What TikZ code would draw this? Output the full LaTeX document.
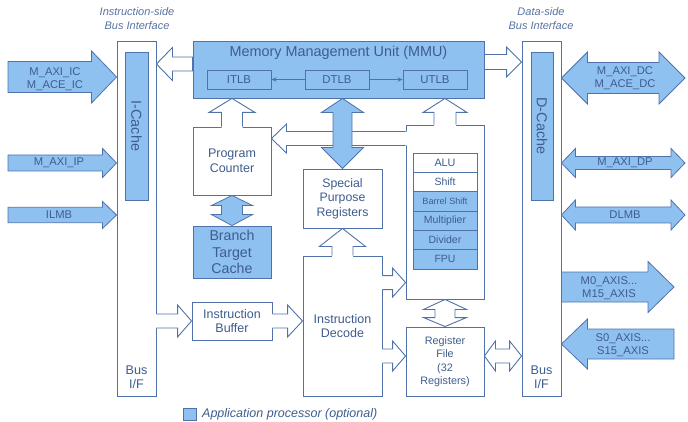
\documentclass[tikz,border=0pt]{standalone}
\usepackage{fontspec}
\setmainfont{Liberation Sans}
\usetikzlibrary{calc,arrows.meta}
\definecolor{fillb}{RGB}{143,193,240}
\definecolor{lineb}{RGB}{80,114,170}
\definecolor{txtb}{RGB}{62,92,142}
\definecolor{ttlb}{RGB}{88,114,160}
\newcommand{\myfs}[2]{\fontsize{#1}{#2}\selectfont}
\tikzset{
  box/.style={draw=lineb, line width=0.9pt, fill=white, inner sep=0pt, text=txtb, align=center},
  fbox/.style={box, fill=fillb},
  filledarrow/.style={draw=lineb, fill=fillb, line width=0.8pt, line join=miter},
  openarrow/.style={draw=lineb, fill=white, line width=0.9pt, line join=miter},
  openline/.style={draw=lineb, line width=0.9pt, line join=miter},
  lbl/.style={text=txtb, align=center, inner sep=0pt, font=\myfs{11.2}{13}},
  ttl/.style={text=ttlb, align=center, inner sep=0pt, font=\myfs{11}{14}\itshape},
  tlbarrow/.style={draw=lineb, line width=0.8pt, -{Stealth[length=5pt,width=4.5pt]}},
}
% single block arrow: style, tail, tip, shaft half width, head half width, head length
\newcommand{\blkarrow}[6]{%
  \path #2 coordinate (aA) #3 coordinate (aB);
  \path ($(aB)!#6!(aA)$) coordinate (aP);
  \filldraw[#1] ($(aA)!#4!90:(aB)$) -- ($(aP)!#4!90:(aB)$) -- ($(aP)!#5!90:(aB)$) -- (aB)
    -- ($(aP)!#5!-90:(aB)$) -- ($(aP)!#4!-90:(aB)$) -- ($(aA)!#4!-90:(aB)$) -- cycle;}
% open arrow whose tail merges into a box: tail, tip, sw, hw, hl
\newcommand{\opnarrow}[5]{%
  \path #1 coordinate (aA) #2 coordinate (aB);
  \path ($(aB)!#5!(aA)$) coordinate (aP) ($(aA)!-2pt!(aB)$) coordinate (aT);
  \fill[white] ($(aT)!#3!90:(aB)$) -- ($(aP)!#3!90:(aB)$) -- ($(aP)!#4!90:(aB)$) -- (aB)
    -- ($(aP)!#4!-90:(aB)$) -- ($(aP)!#3!-90:(aB)$) -- ($(aT)!#3!-90:(aB)$) -- cycle;
  \draw[openline] ($(aA)!#3!90:(aB)$) -- ($(aP)!#3!90:(aB)$) -- ($(aP)!#4!90:(aB)$) -- (aB)
    -- ($(aP)!#4!-90:(aB)$) -- ($(aP)!#3!-90:(aB)$) -- ($(aA)!#3!-90:(aB)$);}
% double block arrow: style, A, B, sw, hw, hlA, hlB
\newcommand{\dblarrow}[7]{%
  \path #2 coordinate (aA) #3 coordinate (aB);
  \path ($(aA)!#6!(aB)$) coordinate (aPA) ($(aB)!#7!(aA)$) coordinate (aPB);
  \filldraw[#1] (aA) -- ($(aPA)!#5!90:(aB)$) -- ($(aPA)!#4!90:(aB)$) -- ($(aPB)!#4!90:(aB)$)
    -- ($(aPB)!#5!90:(aB)$) -- (aB) -- ($(aPB)!#5!-90:(aB)$) -- ($(aPB)!#4!-90:(aB)$)
    -- ($(aPA)!#4!-90:(aB)$) -- ($(aPA)!#5!-90:(aB)$) -- cycle;}
\begin{document}
\begin{tikzpicture}[x=1pt,y=-1pt]
\useasboundingbox (0,0) rectangle (688,422);

% titles
\node[ttl] (ist) at (137,19) {Instruction-side\\Bus Interface};
\node[ttl] (dst) at (541,19) {Data-side\\Bus Interface};

% bus columns
\node[box, minimum width=39pt, minimum height=355pt] (isbus) at (136.5,218.5) {};
\node[fbox, minimum width=23pt, minimum height=148pt] (icache) at (136.5,126) {};
\node[text=txtb, rotate=-90, font=\myfs{14.4}{16}] (icachet) at (icache.center) {I-Cache};
\node[lbl, font=\myfs{12.6}{14}] (isbf) at (136.5,377) {Bus\\I/F};

\node[box, minimum width=39pt, minimum height=355pt] (dsbus) at (541.5,218.5) {};
\node[fbox, minimum width=22pt, minimum height=148pt] (dcache) at (542,126) {};
\node[text=txtb, rotate=-90, font=\myfs{14.4}{16}] (dcachet) at (dcache.center) {D-Cache};
\node[lbl, font=\myfs{12.6}{14}] (dsbf) at (541.5,377) {Bus\\I/F};

% MMU
\node[fbox, minimum width=291pt, minimum height=57pt] (mmu) at (338.5,69.5) {};
\node[text=txtb, font=\myfs{14.4}{16}, inner sep=0pt] (mmut) at (338.5,53) {Memory Management Unit (MMU)};
\node[fbox, minimum width=64pt, minimum height=19pt, font=\myfs{11.4}{13}] (itlb) at (239,79.5) {ITLB};
\node[fbox, minimum width=64pt, minimum height=19pt, font=\myfs{11.4}{13}] (dtlb) at (337,79.5) {DTLB};
\node[fbox, minimum width=64pt, minimum height=19pt, font=\myfs{11.4}{13}] (utlb) at (435,79.5) {UTLB};
\draw[tlbarrow] (dtlb) -- (itlb);
\draw[tlbarrow] (dtlb) -- (utlb);

% core blocks
\node[box, minimum width=78pt, minimum height=68pt, font=\myfs{12.5}{15}] (pc) at (232,161) {Program\\Counter};
\node[fbox, minimum width=78pt, minimum height=52pt, font=\myfs{14.2}{16.5}] (btc) at (232,252) {Branch\\Target\\Cache};
\node[box, minimum width=79pt, minimum height=59pt, font=\myfs{12.3}{14.5}] (spr) at (342.5,198.5) {Special\\Purpose\\Registers};
\node[box, minimum width=79pt, minimum height=140pt, font=\myfs{12.5}{14.5}] (dec) at (342.5,326) {Instruction\\Decode};
\node[box, minimum width=80pt, minimum height=38pt, font=\myfs{12.5}{14.5}] (ib) at (232,321) {Instruction\\Buffer};
\node[box, minimum width=78pt, minimum height=174pt] (exec) at (445,212) {};
\node[box, minimum width=78pt, minimum height=69pt, font=\myfs{10.8}{13.5}] (rf) at (445,361.5) {Register\\File\\(32\\Registers)};

% execution units
\node[box, minimum width=64pt, minimum height=19.33pt, font=\myfs{10.8}{12}] (alu) at (445,162.67) {ALU};
\node[box, minimum width=64pt, minimum height=19.33pt, font=\myfs{10.5}{12}] (shf) at (445,182) {Shift};
\node[fbox, minimum width=64pt, minimum height=19.33pt, font=\myfs{9.1}{11}] (bsh) at (445,201.33) {Barrel Shift};
\node[fbox, minimum width=64pt, minimum height=19.33pt, font=\myfs{10.5}{12}] (mul) at (445,220.67) {Multiplier};
\node[fbox, minimum width=64pt, minimum height=19.33pt, font=\myfs{10.5}{12}] (dvd) at (445,240) {Divider};
\node[fbox, minimum width=64pt, minimum height=19.33pt, font=\myfs{10.5}{12}] (fpu) at (445,259.33) {FPU};

% left interface arrows
\coordinate (micT) at (8,77);
\blkarrow{filledarrow}{(micT)}{(isbus.west |- micT)}{15.5pt}{26pt}{25pt}
\node[lbl] (micL) at (55,79) {M\_AXI\_IC\\M\_ACE\_IC};
\coordinate (mipT) at (8,163);
\blkarrow{filledarrow}{(mipT)}{(isbus.west |- mipT)}{8pt}{14.5pt}{14pt}
\node[lbl] (mipL) at (59,163) {M\_AXI\_IP};
\coordinate (ilmT) at (8,215);
\blkarrow{filledarrow}{(ilmT)}{(isbus.west |- ilmT)}{7.7pt}{13.5pt}{14pt}
\node[lbl] (ilmL) at (59,215) {ILMB};

% MMU to bus interfaces
\path ($(mmu.west)+(0,-5.5)$) coordinate (mmuI);
\blkarrow{openarrow}{(mmuI)}{(isbus.east |- mmuI)}{7pt}{16.5pt}{16pt}
\path ($(mmu.east)+(0,-7.5)$) coordinate (mmuD);
\blkarrow{openarrow}{(mmuD)}{(dsbus.west |- mmuD)}{7.5pt}{15pt}{15pt}

% right interface arrows
\coordinate (mdcR) at (685,78);
\dblarrow{filledarrow}{(dsbus.east |- mdcR)}{(mdcR)}{15.5pt}{26pt}{26pt}{26pt}
\node[lbl] (mdcL) at (625,78) {M\_AXI\_DC\\M\_ACE\_DC};
\coordinate (mdpR) at (685,163);
\dblarrow{filledarrow}{(dsbus.east |- mdpR)}{(mdpR)}{6.5pt}{14.5pt}{14pt}{14pt}
\node[lbl] (mdpL) at (625,163) {M\_AXI\_DP};
\coordinate (dlmR) at (685,215);
\dblarrow{filledarrow}{(dsbus.east |- dlmR)}{(dlmR)}{8pt}{15pt}{14pt}{14pt}
\node[lbl] (dlmL) at (625,215) {DLMB};
\coordinate (m0T) at (674,287);
\blkarrow{filledarrow}{(dsbus.east |- m0T)}{(m0T)}{15pt}{25.5pt}{26pt}
\node[lbl] (m0L) at (609,288) {M0\_AXIS...\\M15\_AXIS};
\coordinate (s0T) at (674,344);
\blkarrow{filledarrow}{(s0T)}{(dsbus.east |- s0T)}{15pt}{25pt}{26pt}
\node[lbl] (s0L) at (623,345) {S0\_AXIS...\\S15\_AXIS};

% internal arrows
\opnarrow{(pc.north)}{(pc.north |- mmu.south)}{10.5pt}{23pt}{14pt}
\opnarrow{(exec.north)}{(exec.north |- mmu.south)}{11pt}{22pt}{14pt}
\path ($(exec.north west)+(0,14)$) coordinate (exL);
\opnarrow{(exL)}{(pc.east |- exL)}{7pt}{14.5pt}{15pt}
\dblarrow{filledarrow}{(spr.north |- mmu.south)}{(spr.north)}{9.5pt}{21pt}{14pt}{21pt}
\opnarrow{(dec.north)}{(spr.south)}{10.5pt}{23pt}{18pt}
\dblarrow{filledarrow}{(pc.south)}{(btc.north)}{10.5pt}{20.5pt}{10pt}{11pt}
\path ($(dec.north east)+(0,27)$) coordinate (dx1);
\opnarrow{(dx1)}{(exec.west |- dx1)}{7pt}{14.5pt}{13pt}
\path ($(rf.west)+(0,-5.5)$) coordinate (dx2);
\opnarrow{(dec.east |- dx2)}{(dx2)}{7pt}{15pt}{13pt}
\dblarrow{openarrow}{(exec.south)}{(rf.north)}{10pt}{21.5pt}{10pt}{9pt}
\path ($(rf.east)+(0,-5.5)$) coordinate (rfx);
\dblarrow{openarrow}{(rfx)}{(dsbus.west |- rfx)}{7pt}{15pt}{11pt}{12pt}
\opnarrow{(isbus.east |- ib.west)}{(ib.west)}{7pt}{16pt}{14pt}
\opnarrow{(ib.east)}{(dec.west |- ib.east)}{7pt}{16pt}{15pt}

% legend
\node[fbox, minimum width=13pt, minimum height=12pt] (leg) at (189.5,414) {};
\node[anchor=west, text=txtb, inner sep=0pt, font=\myfs{12.5}{14}\itshape] (legt) at (202,414) {Application processor (optional)};
\end{tikzpicture}
\end{document}
